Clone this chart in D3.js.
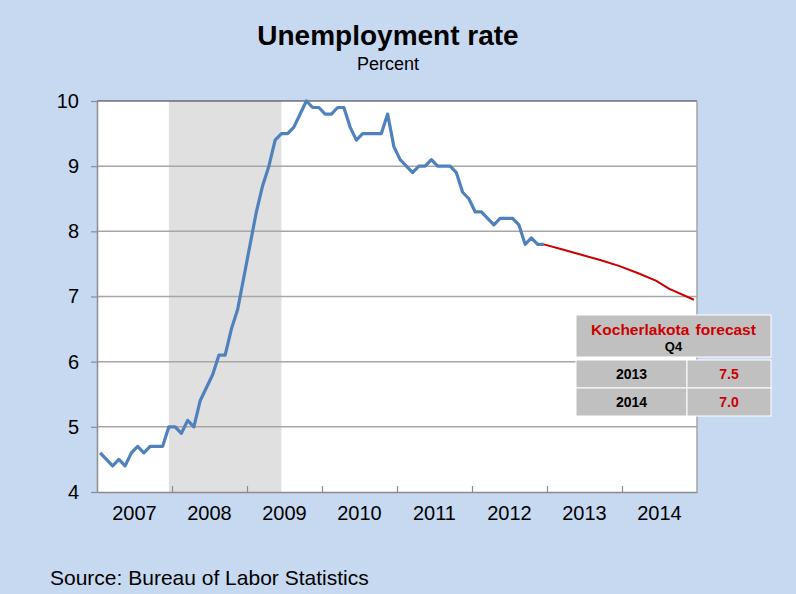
<!DOCTYPE html>
<html>
<head>
<meta charset="utf-8">
<script src="https://cdn.jsdelivr.net/npm/d3@7"></script>
<style>
    body { margin: 0; background: #c6d9f1; }
    svg { display: block; font-family: Arial, "Liberation Sans", sans-serif; }
</style>
</head>
<body>
<svg width="796" height="594"></svg>
<script>
// monthly unemployment rate, Jan 2007 - Dec 2012
var startYear = 2007;
var unemployment = [
    4.6, 4.5, 4.4, 4.5, 4.4, 4.6, 4.7, 4.6, 4.7, 4.7, 4.7, 5.0, // 2007
    5.0, 4.9, 5.1, 5.0, 5.4, 5.6, 5.8, 6.1, 6.1, 6.5, 6.8, 7.3, // 2008
    7.8, 8.3, 8.7, 9.0, 9.4, 9.5, 9.5, 9.6, 9.8, 10.0, 9.9, 9.9, // 2009
    9.8, 9.8, 9.9, 9.9, 9.6, 9.4, 9.5, 9.5, 9.5, 9.5, 9.8, 9.3, // 2010
    9.1, 9.0, 8.9, 9.0, 9.0, 9.1, 9.0, 9.0, 9.0, 8.9, 8.6, 8.5, // 2011
    8.3, 8.3, 8.2, 8.1, 8.2, 8.2, 8.2, 8.1, 7.8, 7.9, 7.8, 7.8  // 2012
];

// forecast path (month, value)
var forecastMonths = ["2012-12", "2013-03", "2013-06", "2013-09", "2013-12", "2014-03", "2014-06", "2014-08", "2014-12"];
var forecastValues = [7.8, 7.72, 7.64, 7.56, 7.47, 7.36, 7.24, 7.12, 6.95];

// recession shading
var recession = ["2007-12", "2009-06"];

var years = ["2007", "2008", "2009", "2010", "2011", "2012", "2013", "2014"];
var yTicks = [4, 5, 6, 7, 8, 9, 10];

var tableTitle = "Kocherlakota forecast";
var tableSub = "Q4";
var tableYears = ["2013", "2014"];
var tableValues = ["7.5", "7.0"];

window.onload = main;

function main() {
    var svg = d3.select("svg");
    var left = 97, right = 697, top = 101, bottom = 492;

    // month index -> x (points sit in the middle of the month)
    var x = d3.scaleLinear().domain([0, years.length * 12]).range([left, right]);
    var y = d3.scaleLinear().domain([4, 10]).range([bottom, top]);

    function monthIndex(s) {
        var p = s.split("-");
        return (+p[0] - startYear) * 12 + (+p[1] - 1);
    }

    svg.append("rect")
        .attr("width", 796).attr("height", 594)
        .attr("fill", "#c6d9f1");

    // plot area
    svg.append("rect")
        .attr("x", left).attr("y", top)
        .attr("width", right - left).attr("height", bottom - top)
        .attr("fill", "#fff");

    svg.append("rect")
        .attr("x", x(monthIndex(recession[0]) + 0.5))
        .attr("y", top)
        .attr("width", x(monthIndex(recession[1]) + 0.5) - x(monthIndex(recession[0]) + 0.5))
        .attr("height", bottom - top)
        .attr("fill", "#e0e0e0");

    // gridlines
    svg.selectAll("line.grid")
        .data(yTicks.slice(1, -1))
        .enter()
        .append("line")
        .attr("class", "grid")
        .attr("x1", left).attr("x2", right)
        .attr("y1", (d) => y(d)).attr("y2", (d) => y(d))
        .attr("stroke", "#a6a6a6")
        .attr("stroke-width", 1.5);

    svg.append("line")
        .attr("x1", left).attr("x2", right)
        .attr("y1", y(10)).attr("y2", y(10))
        .attr("stroke", "#333")
        .attr("stroke-width", 1.2);
    svg.append("line")
        .attr("x1", right).attr("x2", right)
        .attr("y1", top).attr("y2", bottom)
        .attr("stroke", "#a6a6a6")
        .attr("stroke-width", 1.5);

    // y axis
    var yAxis = svg.append("g")
        .attr("transform", "translate(" + left + ",0)")
        .call(d3.axisLeft(y).tickValues(yTicks).tickFormat(d3.format("d"))
            .tickSize(6).tickSizeOuter(0).tickPadding(12));
    yAxis.select(".domain").attr("stroke", "#8c8c8c").attr("stroke-width", 1.5);
    yAxis.selectAll(".tick line").attr("stroke", "#8c8c8c").attr("stroke-width", 1.2);
    yAxis.selectAll("text")
        .attr("font-size", "20px")
        .attr("fill", "#000")
        .attr("font-family", "Arial, 'Liberation Sans', sans-serif");

    // x axis: boundaries between years get inward ticks
    var xAxis = svg.append("g")
        .attr("transform", "translate(0," + bottom + ")")
        .call(d3.axisBottom(x).tickValues(d3.range(1, years.length).map((i) => i * 12))
            .tickSize(-6).tickSizeOuter(0).tickFormat(""));
    xAxis.select(".domain").attr("stroke", "#8c8c8c").attr("stroke-width", 1.5);
    xAxis.selectAll(".tick line").attr("stroke", "#8c8c8c").attr("stroke-width", 1.2);

    svg.selectAll("text.year")
        .data(years)
        .enter()
        .append("text")
        .attr("class", "year")
        .attr("x", (d, i) => x(i * 12 + 6))
        .attr("y", 520)
        .attr("text-anchor", "middle")
        .attr("font-size", "20px")
        .text((d) => d);

    // actual series
    var line = d3.line()
        .x((d) => x(d[0] + 0.5))
        .y((d) => y(d[1]));

    svg.append("path")
        .datum(unemployment.map((v, i) => [i, v]))
        .attr("d", line)
        .attr("fill", "none")
        .attr("stroke", "#4f81bd")
        .attr("stroke-width", 3.2)
        .attr("stroke-linejoin", "round");

    svg.append("path")
        .datum(forecastMonths.map((m, i) => [monthIndex(m), forecastValues[i]]))
        .attr("d", line)
        .attr("fill", "none")
        .attr("stroke", "#cc0000")
        .attr("stroke-width", 2);

    // titles
    svg.append("text")
        .attr("x", 388).attr("y", 45)
        .attr("text-anchor", "middle")
        .attr("font-size", "28px")
        .attr("font-weight", "bold")
        .text("Unemployment rate");
    svg.append("text")
        .attr("x", 388).attr("y", 70)
        .attr("text-anchor", "middle")
        .attr("font-size", "18px")
        .text("Percent");

    svg.append("text")
        .attr("x", 50).attr("y", 585)
        .attr("font-size", "21px")
        .text("Source: Bureau of Labor Statistics");

    drawTable();

    function drawTable() {
        var tx = 576, tw = 195, split = 687;
        var table = svg.append("g").attr("id", "forecast-table");

        table.append("rect")
            .attr("x", tx).attr("y", 315)
            .attr("width", tw).attr("height", 42)
            .attr("fill", "#c0c0c0")
            .attr("stroke", "#fff").attr("stroke-width", 1);
        table.append("text")
            .attr("x", tx + tw / 2).attr("y", 335)
            .attr("text-anchor", "middle")
            .attr("font-size", "15.5px")
            .attr("font-weight", "bold")
            .attr("fill", "#cc0000")
            .attr("word-spacing", "2px")
            .text(tableTitle);
        table.append("text")
            .attr("x", tx + tw / 2).attr("y", 351)
            .attr("text-anchor", "middle")
            .attr("font-size", "13px")
            .attr("font-weight", "bold")
            .text(tableSub);

        var rows = table.selectAll("g.row")
            .data(tableYears)
            .enter()
            .append("g")
            .attr("class", "row")
            .attr("transform", (d, i) => "translate(0," + (360 + i * 28) + ")");

        rows.append("rect")
            .attr("x", tx).attr("width", split - tx).attr("height", 28)
            .attr("fill", "#c0c0c0")
            .attr("stroke", "#fff").attr("stroke-width", 1);
        rows.append("rect")
            .attr("x", split).attr("width", tx + tw - split).attr("height", 28)
            .attr("fill", "#c0c0c0")
            .attr("stroke", "#fff").attr("stroke-width", 1);
        rows.append("text")
            .attr("x", (tx + split) / 2).attr("y", 19)
            .attr("text-anchor", "middle")
            .attr("font-size", "14px")
            .attr("font-weight", "bold")
            .text((d) => d);
        rows.append("text")
            .attr("x", (split + tx + tw) / 2).attr("y", 19)
            .attr("text-anchor", "middle")
            .attr("font-size", "14px")
            .attr("font-weight", "bold")
            .attr("fill", "#cc0000")
            .text((d, i) => tableValues[i]);
    }
}
</script>
</body>
</html>
